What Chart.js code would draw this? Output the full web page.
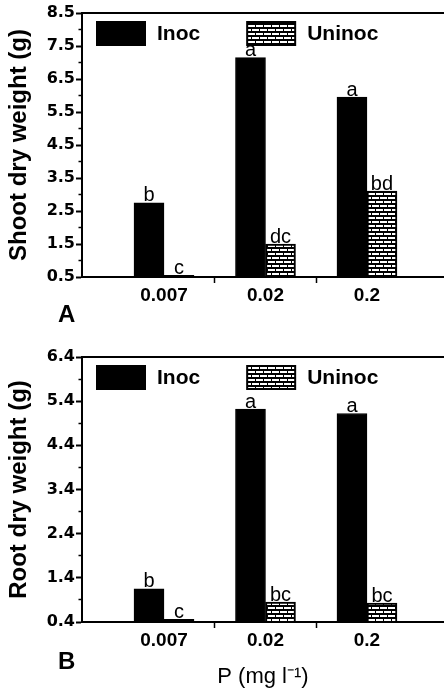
<!DOCTYPE html>
<html>
<head>
<meta charset="utf-8">
<script src="https://cdn.jsdelivr.net/npm/chart.js@4.4.1/dist/chart.umd.min.js"></script>
<style>
html,body{margin:0;padding:0;background:#fff;}
#wrap{position:relative;width:444px;height:691px;overflow:hidden;background:#fff;}
canvas{position:absolute;left:0;}
#cA{top:0;}
#cB{top:330px;}
.panel{position:absolute;left:58px;font:bold 24px "Liberation Sans",Arial,Helvetica,sans-serif;line-height:24px;color:#000;}
</style>
</head>
<body>
<div id="wrap">
<canvas id="cA" width="444" height="330"></canvas>
<canvas id="cB" width="444" height="361"></canvas>
<div class="panel" style="top:302px">A</div>
<div class="panel" style="top:649px">B</div>
</div>
<script>
// ---- data ----
const categories = ['0.007', '0.02', '0.2'];
const seriesNames = ['Inoc', 'Uninoc'];

const shootInoc = [2.75, 7.15, 5.95];
const shootUninoc = [0.55, 1.5, 3.1];
const shootInocLetters = ['b', 'a', 'a'];
const shootUninocLetters = ['c', 'dc', 'bd'];
const shootTickLabels = ['0.5', '1.5', '2.5', '3.5', '4.5', '5.5', '6.5', '7.5', '8.5'];

const rootInoc = [1.15, 5.22, 5.12];
const rootUninoc = [0.46, 0.85, 0.83];
const rootInocLetters = ['b', 'a', 'a'];
const rootUninocLetters = ['c', 'bc', 'bc'];
const rootTickLabels = ['0.4', '1.4', '2.4', '3.4', '4.4', '5.4', '6.4'];

const shootTitle = 'Shoot dry weight (g)';
const rootTitle = 'Root dry weight (g)';
const xTitle = 'P (mg l\u207B\u00B9)';

// ---- styling helpers ----
const FONT = '"Liberation Sans", Arial, Helvetica, sans-serif';
const TICKFONT = '"DejaVu Sans", "Liberation Sans", Arial, sans-serif';

function brickPattern() {
  const c = document.createElement('canvas');
  c.width = 8; c.height = 8;
  const g = c.getContext('2d');
  g.fillStyle = '#000';
  g.fillRect(0, 0, 8, 8);
  g.fillStyle = '#fff';
  g.fillRect(0, 1, 7, 2);
  g.fillRect(4, 5, 4, 2);
  g.fillRect(0, 5, 3, 2);
  return g.createPattern(c, 'repeat');
}
const BRICK = brickPattern();

const letterPlugin = {
  id: 'letters',
  afterDatasetsDraw(chart) {
    const ctx = chart.ctx;
    ctx.save();
    ctx.font = '20px ' + FONT;
    ctx.fillStyle = '#000';
    ctx.textAlign = 'center';
    ctx.textBaseline = 'alphabetic';
    chart.data.datasets.forEach((ds, i) => {
      const meta = chart.getDatasetMeta(i);
      meta.data.forEach((bar, j) => {
        ctx.fillText(ds.letters[j], bar.x, bar.y - 1.5);
      });
    });
    ctx.restore();
  }
};

const legendPlugin = {
  id: 'boxLegend',
  afterDraw(chart) {
    const {ctx, chartArea} = chart;
    ctx.save();
    ctx.font = 'bold 21px ' + FONT;
    ctx.textBaseline = 'middle';
    ctx.textAlign = 'left';
    let x = chartArea.left + 15;
    const y = chartArea.top + 9;
    chart.data.datasets.forEach(ds => {
      ctx.fillStyle = ds.backgroundColor;
      ctx.fillRect(x, y, 48, 23);
      ctx.strokeStyle = '#000';
      ctx.lineWidth = 2;
      ctx.strokeRect(x, y, 48, 23);
      ctx.fillStyle = '#000';
      ctx.fillText(ds.label, x + 60, y + 12);
      x += 60 + ctx.measureText(ds.label).width + 47;
    });
    ctx.restore();
  }
};

const topLinePlugin = {
  id: 'topLine',
  afterDraw(chart) {
    const {ctx, chartArea} = chart;
    ctx.save();
    ctx.strokeStyle = '#000';
    ctx.lineWidth = 2;
    ctx.beginPath();
    ctx.moveTo(chartArea.left - 1, chartArea.top);
    ctx.lineTo(chartArea.right, chartArea.top);
    ctx.stroke();
    ctx.restore();
  }
};

function build(canvas, cfg) {
  const majors = cfg.tickLabels.map(Number);
  const step = majors[1] - majors[0];
  const tickVals = [];
  majors.forEach((m, i) => {
    tickVals.push(m);
    if (i < majors.length - 1) tickVals.push(m + step / 2);
  });
  const isMajor = v => majors.some(m => Math.abs(m - v) < 1e-9);
  const catTicks = [];
  categories.forEach((c, i) => {
    catTicks.push(i + 1);
    if (i < categories.length - 1) catTicks.push(i + 1.5);
  });

  return new Chart(canvas, {
    type: 'bar',
    data: {
      datasets: [
        {
          label: seriesNames[0],
          data: cfg.inoc.map((v, i) => ({x: i + 1, y: v})),
          backgroundColor: '#000',
          borderColor: '#000',
          borderWidth: 1,
          barThickness: 30,
          letters: cfg.inocLetters
        },
        {
          label: seriesNames[1],
          data: cfg.uninoc.map((v, i) => ({x: i + 1, y: v})),
          backgroundColor: BRICK,
          borderColor: '#000',
          borderWidth: 2,
          barThickness: 30,
          letters: cfg.uninocLetters
        }
      ]
    },
    options: {
      responsive: false,
      animation: false,
      devicePixelRatio: 1,
      layout: {padding: {top: cfg.top, left: 0, right: 0, bottom: 0}},
      plugins: {legend: {display: false}, tooltip: {enabled: false}},
      scales: {
        x: {
          type: 'linear',
          min: 0.192,
          max: 3.759,
          offset: false,
          afterBuildTicks: s => { s.ticks = catTicks.map(v => ({value: v})); },
          afterFit: s => { s.height = cfg.xHeight; },
          ticks: {
            autoSkip: false,
            maxRotation: 0,
            padding: 1,
            color: '#000',
            font: {family: FONT, size: 19, weight: 'bold'},
            callback: v => Number.isInteger(v) ? categories[v - 1] : ''
          },
          grid: {
            display: true,
            offset: false,
            drawOnChartArea: false,
            drawTicks: true,
            tickLength: 6,
            tickWidth: 1.5,
            tickColor: c => (c.tick && Number.isInteger(c.tick.value)) ? 'rgba(0,0,0,0)' : '#000'
          },
          border: {display: true, color: '#000', width: 2},
          title: cfg.xTitle ? {
            display: true,
            text: cfg.xTitle,
            color: '#000',
            font: {family: FONT, size: 22, weight: 'normal'},
            padding: {top: 0, bottom: 1}
          } : {display: false}
        },
        y: {
          type: 'linear',
          min: majors[0],
          max: majors[majors.length - 1],
          afterBuildTicks: s => { s.ticks = tickVals.map(v => ({value: v})); },
          afterFit: s => { s.width = 82; },
          ticks: {
            autoSkip: false,
            padding: 1,
            color: '#000',
            font: {family: TICKFONT, size: 16, weight: 'bold'},
            callback: v => {
              const i = majors.findIndex(m => Math.abs(m - v) < 1e-9);
              return i >= 0 ? cfg.tickLabels[i] : '';
            }
          },
          grid: {
            display: true,
            drawOnChartArea: false,
            drawTicks: true,
            tickLength: 6,
            tickColor: '#000',
            tickWidth: c => (c.tick && isMajor(c.tick.value)) ? 2 : 1.5,
            tickBorderDash: c => (c.tick && isMajor(c.tick.value)) ? [] : [0, 2.5, 10, 0]
          },
          border: {display: true, color: '#000', width: 2},
          title: {
            display: true,
            text: cfg.yTitle,
            color: '#000',
            font: {family: FONT, size: 24, weight: 'bold'},
            padding: {top: 4.5, bottom: 0}
          }
        }
      }
    },
    plugins: [letterPlugin, legendPlugin, topLinePlugin]
  });
}

build(document.getElementById('cA'), {
  inoc: shootInoc, uninoc: shootUninoc,
  inocLetters: shootInocLetters, uninocLetters: shootUninocLetters,
  tickLabels: shootTickLabels, yTitle: shootTitle,
  top: 13, xHeight: 53, xTitle: null
});

build(document.getElementById('cB'), {
  inoc: rootInoc, uninoc: rootUninoc,
  inocLetters: rootInocLetters, uninocLetters: rootUninocLetters,
  tickLabels: rootTickLabels, yTitle: rootTitle,
  top: 27, xHeight: 69, xTitle: xTitle
});
</script>
</body>
</html>
